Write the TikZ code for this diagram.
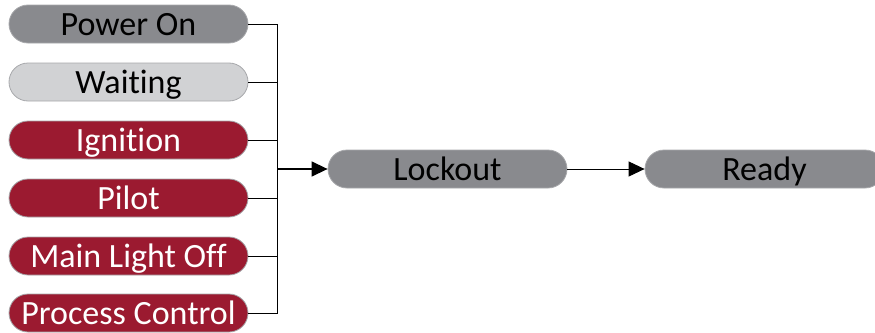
\documentclass[tikz,border=0pt]{standalone}
\usepackage{fontspec}
\setmainfont[Ligatures=NoCommon]{Carlito}
\usetikzlibrary{arrows.meta}
\definecolor{dgray}{HTML}{898A8E}
\definecolor{lgray}{HTML}{D1D2D4}
\definecolor{wine}{HTML}{9B1A30}
\definecolor{edge}{HTML}{A7A8AB}
\tikzset{
  statebox/.style={rectangle, rounded corners=19pt, minimum width=239pt, minimum height=38pt, inner sep=0pt, text height=26pt, text depth=4pt, draw=edge, line width=0.8pt, font=\fontsize{34}{40}\selectfont},
  grayst/.style={statebox, fill=dgray, text=black},
  lightst/.style={statebox, fill=lgray, text=black},
  redst/.style={statebox, fill=wine, text=white},
  stub/.style={line width=1pt, black},
  arr/.style={line width=1.4pt, black, -{Triangle[length=16pt,width=15pt]}},
}
\begin{document}
\begin{tikzpicture}[x=1pt,y=-1pt]
\useasboundingbox (0,0) rectangle (875,332);
\clip (0,0) rectangle (875,332);
\node[grayst] (pw) at (128.5,24) {Power On};
\node[lightst] (wt) at (128.5,82) {Waiting};
\node[redst] (ig) at (128.5,140) {Ignition};
\node[redst] (pl) at (128.5,198) {Pilot};
\node[redst] (ml) at (128.5,256) {Main Light Off};
\node[redst] (pc) at (128.5,313) {Process Control};
\node[grayst] (lo) at (447.5,169) {Lockout};
\node[grayst] (rd) at (764.5,169) {Ready};
\coordinate (bus) at (277,169);
\foreach \n in {pw,wt,ig,pl,ml,pc} \draw[stub] (\n.east) -| (bus);
\draw[arr] (bus) -- (lo.west);
\draw[stub, -{Triangle[length=16pt,width=15pt]}] (lo.east) -- (rd.west);
\end{tikzpicture}
\end{document}
